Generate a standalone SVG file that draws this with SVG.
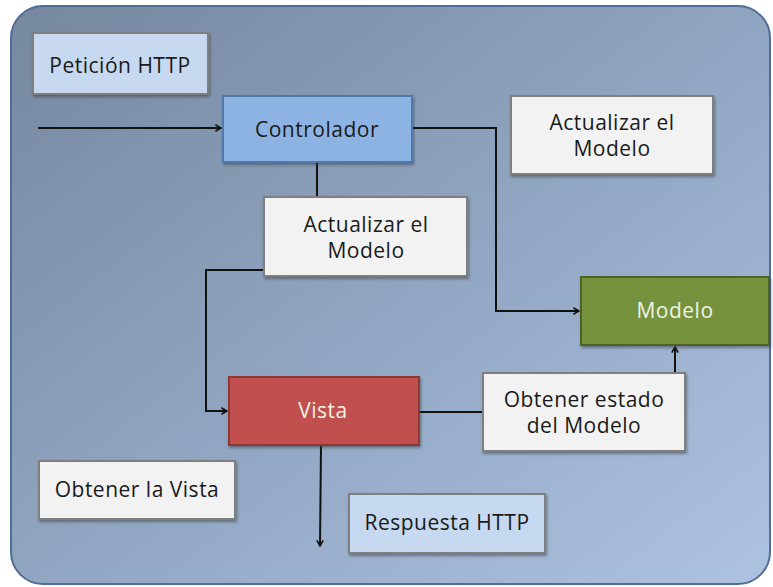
<svg xmlns="http://www.w3.org/2000/svg" width="773" height="587" viewBox="0 0 773 587">
<defs>
<linearGradient id="bg" x1="0" y1="0" x2="1" y2="1">
<stop offset="0" stop-color="#76879f"/>
<stop offset="0.55" stop-color="#93a8c4"/>
<stop offset="1" stop-color="#adc3e0"/>
</linearGradient>
<marker id="ah" viewBox="0 0 10 10" refX="9" refY="5" markerWidth="8" markerHeight="8" orient="auto" markerUnits="userSpaceOnUse">
<path d="M2,1 L9,5 L2,9" fill="none" stroke="#111" stroke-width="2"/>
</marker>
<filter id="sh" x="-10%" y="-10%" width="130%" height="140%">
<feDropShadow dx="1" dy="2" stdDeviation="1.5" flood-color="#333" flood-opacity="0.5"/>
</filter>
</defs>
<style>
.lbl{fill:#f2f2f2;stroke:#7f7f7f;stroke-width:2;filter:url(#sh)}
.lblb{fill:#c6d9f0;stroke:#7f7f7f;stroke-width:2;filter:url(#sh)}
text{font-family:"Open Sans","Noto Sans","DejaVu Sans",sans-serif;font-size:21px;letter-spacing:0.5px;fill:#1a1a1a;text-anchor:middle}
.w{fill:#eef3e6}
.c{fill:none;stroke:#111;stroke-width:2}
</style>
<rect x="11" y="6" width="759" height="578" rx="32" fill="url(#bg)" stroke="#4f6d96" stroke-width="2"/>
<g id="connectors">
<path class="c" d="M38,128 H221" marker-end="url(#ah)"/>
<path class="c" d="M317,162 V197"/>
<path class="c" d="M264,270 H206 V411 H227" marker-end="url(#ah)"/>
<path class="c" d="M412,128 H496 V311 H579" marker-end="url(#ah)"/>
<path class="c" d="M419,412 H483"/>
<path class="c" d="M675,372 V347" marker-end="url(#ah)"/>
<path class="c" d="M321,445 L320,546" marker-end="url(#ah)"/>
</g>
<g id="peticion">
<rect class="lblb" x="33" y="33" width="175" height="61"/>
<text x="120" y="73">Petición HTTP</text>
</g>
<g id="controlador">
<rect x="223" y="96" width="189" height="66" fill="#8db3e2" stroke="#4f78ab" stroke-width="2" filter="url(#sh)"/>
<text x="317" y="137">Controlador</text>
</g>
<g id="actualizar1">
<rect class="lbl" x="264" y="197" width="203" height="79"/>
<text x="366" y="232">Actualizar el<tspan x="366" dy="26">Modelo</tspan></text>
</g>
<g id="actualizar2">
<rect class="lbl" x="511" y="96" width="202" height="78"/>
<text x="612" y="130">Actualizar el<tspan x="612" dy="26">Modelo</tspan></text>
</g>
<g id="modelo">
<rect x="581" y="277" width="188" height="68" fill="#76923c" stroke="#4f6228" stroke-width="2" filter="url(#sh)"/>
<text class="w" x="675" y="318">Modelo</text>
</g>
<g id="vista">
<rect x="229" y="377" width="190" height="68" fill="#c0504d" stroke="#8c3836" stroke-width="2" filter="url(#sh)"/>
<text class="w" x="323" y="418">Vista</text>
</g>
<g id="obtenerestado">
<rect class="lbl" x="483" y="373" width="202" height="78"/>
<text x="584" y="407">Obtener estado<tspan x="584" dy="26">del Modelo</tspan></text>
</g>
<g id="obtenervista">
<rect class="lbl" x="39" y="461" width="196" height="58"/>
<text x="137" y="497">Obtener la Vista</text>
</g>
<g id="respuesta">
<rect class="lblb" x="349" y="494" width="196" height="59"/>
<text x="447" y="530">Respuesta HTTP</text>
</g>
</svg>
